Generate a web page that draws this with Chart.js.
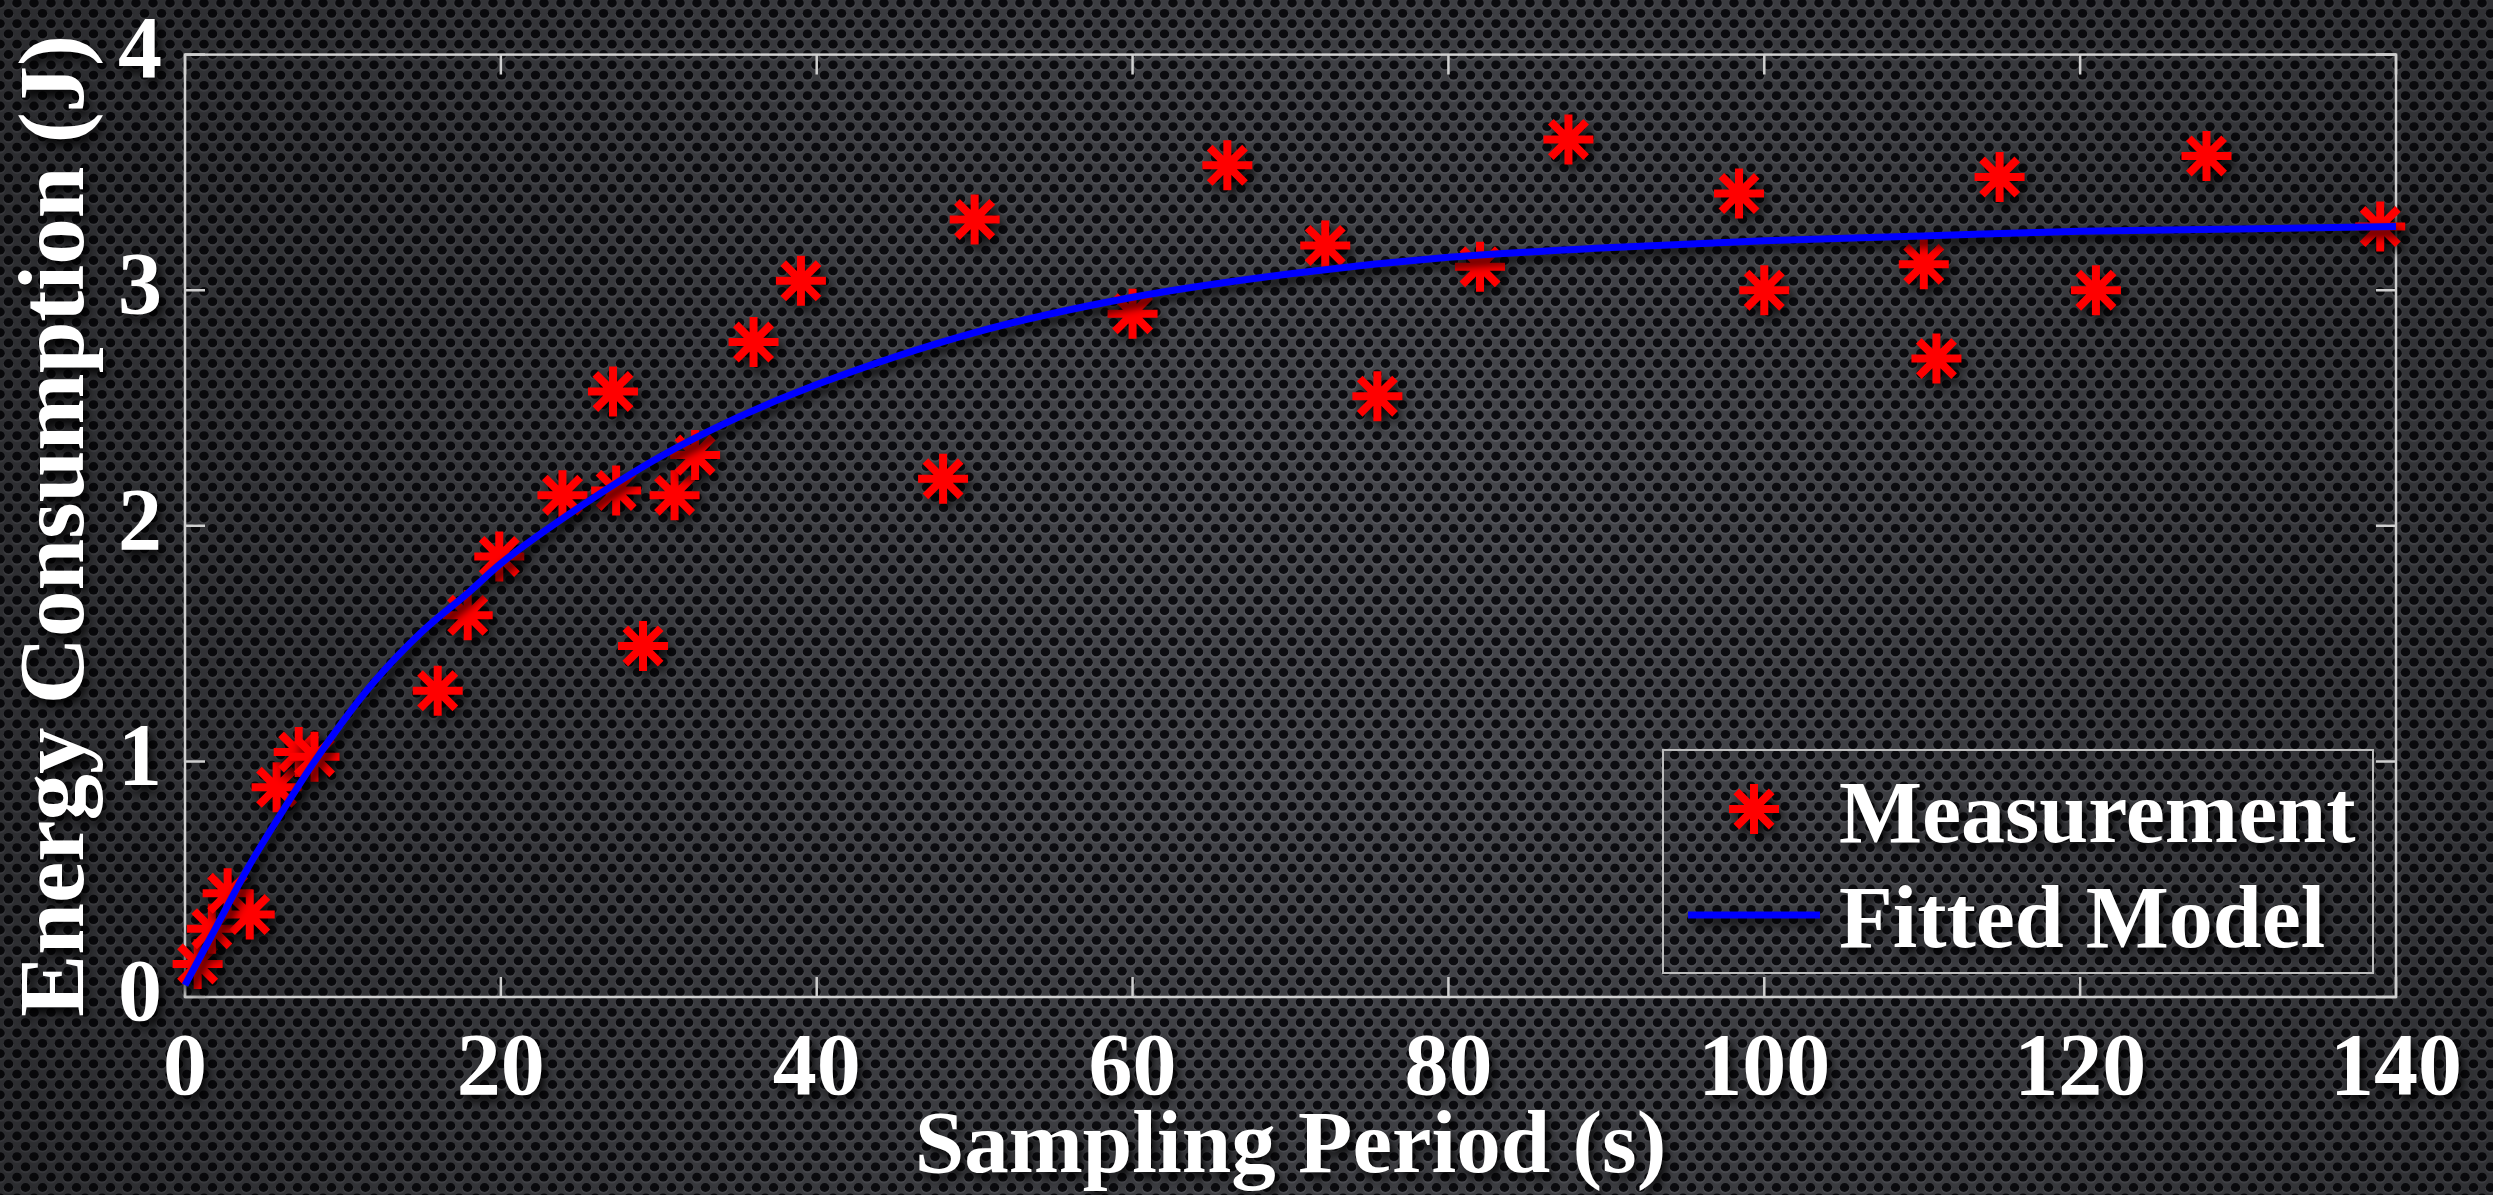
<!DOCTYPE html>
<html>
<head>
<meta charset="utf-8">
<title>Energy Consumption vs Sampling Period</title>
<script src="https://cdn.jsdelivr.net/npm/chart.js@4.4.1/dist/chart.umd.min.js"></script>
<style>
  html, body { margin: 0; padding: 0; background: #1c1c20; overflow: hidden; }
  #wrap { position: relative; width: 2493px; height: 1195px; }
  #bg, #energyChart { position: absolute; left: 0; top: 0; }
</style>
</head>
<body>
<div id="wrap">
  <canvas id="bg" width="2493" height="1195"></canvas>
  <canvas id="energyChart" width="2493" height="1195"></canvas>
</div>
<script>
// measured points (sampling period in s, energy in J)
const periods = [0.8, 1.7, 2.7, 4.1, 5.8, 7.2, 8.2, 16.0, 17.9, 19.9, 23.9, 27.1, 27.3, 29.0, 31.0, 32.3, 36.0, 39.0,
  48.0, 50.0, 60.0, 66.0, 72.2, 75.5, 82.0, 87.6, 98.4, 100.0, 110.1, 110.9, 114.9, 121.0, 128.0, 139.0];
const energy = [0.14, 0.29, 0.44, 0.35, 0.89, 1.04, 1.02, 1.30, 1.62, 1.87, 2.13, 2.57, 2.15, 1.49, 2.13, 2.30, 2.78, 3.04,
  2.20, 3.30, 2.90, 3.53, 3.19, 2.55, 3.10, 3.64, 3.41, 3.00, 3.11, 2.71, 3.48, 3.00, 3.57, 3.27];

// fitted model curve
const modelPeriods = [0, 2, 4, 6, 8, 10, 12, 15, 18, 20, 25, 30, 35, 40, 50, 60, 70, 80, 90, 100, 110, 120, 130, 140];
const modelEnergy = [0.05, 0.30, 0.55, 0.77, 0.98, 1.17, 1.34, 1.55, 1.72, 1.84, 2.08, 2.29, 2.46, 2.60, 2.82, 2.97,
  3.07, 3.14, 3.18, 3.21, 3.23, 3.25, 3.26, 3.27];

const xTicks = [0, 20, 40, 60, 80, 100, 120, 140];
const yTicks = [0, 1, 2, 3, 4];

const serif = "'Liberation Serif', 'Times New Roman', serif";

// perforated metal background
function drawBackground() {
  const c = document.getElementById('bg');
  const g = c.getContext('2d');
  const W = c.width, H = c.height;
  g.fillStyle = '#45464b';
  g.fillRect(0, 0, W, H);
  const dx = 17, dy = 10.3, r = 4.8;
  let row = 0;
  for (let y = 3; y < H + dy; y += dy, row++) {
    const off = (row % 2) * dx / 2;
    for (let x = off; x < W + dx; x += dx) {
      g.fillStyle = '#55565c';
      g.beginPath();
      g.ellipse(x, y + 1.2, r + 0.7, r * 0.92 + 0.7, 0, 0, Math.PI * 2);
      g.fill();
      g.fillStyle = '#0c0c10';
      g.beginPath();
      g.ellipse(x, y, r, r * 0.92, 0, 0, Math.PI * 2);
      g.fill();
    }
  }
  const grad = g.createRadialGradient(W * 0.55, H * 0.5, 200, W * 0.55, H * 0.5, W * 0.7);
  grad.addColorStop(0, 'rgba(0,0,0,0)');
  grad.addColorStop(1, 'rgba(0,0,0,0.45)');
  g.fillStyle = grad;
  g.fillRect(0, 0, W, H);
}
drawBackground();

const shadowPlugin = {
  id: 'shadow',
  beforeDraw(chart) {
    const ctx = chart.ctx;
    ctx.shadowColor = 'rgba(0,0,0,0.9)';
    ctx.shadowBlur = 10;
    ctx.shadowOffsetX = 4;
    ctx.shadowOffsetY = 6;
  },
  afterDraw(chart) {
    const ctx = chart.ctx;
    ctx.shadowColor = 'rgba(0,0,0,0)';
    ctx.shadowBlur = 0;
    ctx.shadowOffsetX = 0;
    ctx.shadowOffsetY = 0;
  }
};

// box around the plot and inward ticks
const framePlugin = {
  id: 'frame',
  beforeDatasetsDraw(chart) {
    const {ctx, chartArea: a, scales: {x, y}} = chart;
    ctx.save();
    ctx.shadowColor = 'rgba(0,0,0,0)';
    ctx.strokeStyle = '#cfcfcf';
    ctx.lineWidth = 2.5;
    ctx.strokeRect(a.left, a.top, a.right - a.left, a.bottom - a.top);
    const len = 20;
    ctx.beginPath();
    xTicks.forEach(v => {
      const px = x.getPixelForValue(v);
      ctx.moveTo(px, a.bottom); ctx.lineTo(px, a.bottom - len);
      ctx.moveTo(px, a.top); ctx.lineTo(px, a.top + len);
    });
    yTicks.forEach(v => {
      const py = y.getPixelForValue(v);
      ctx.moveTo(a.left, py); ctx.lineTo(a.left + len, py);
      ctx.moveTo(a.right, py); ctx.lineTo(a.right - len, py);
    });
    ctx.stroke();
    ctx.restore();
  }
};

// legend box in the lower right of the plot
const legendPlugin = {
  id: 'boxLegend',
  afterDatasetsDraw(chart) {
    const ctx = chart.ctx;
    const sets = chart.data.datasets;
    const bx = 1663, by = 750, bw = 710, bh = 223;
    ctx.save();
    ctx.shadowColor = 'rgba(0,0,0,0)';
    ctx.strokeStyle = '#bdbdbd';
    ctx.lineWidth = 2;
    ctx.strokeRect(bx, by, bw, bh);
    ctx.restore();

    ctx.save();
    ctx.strokeStyle = sets[0].borderColor;
    ctx.fillStyle = sets[0].backgroundColor;
    ctx.lineWidth = 8;
    Chart.helpers.drawPoint(ctx, {
      pointStyle: 'star', radius: 25, borderWidth: 8, rotation: 0
    }, 1754, 809);
    ctx.beginPath();
    ctx.moveTo(1688, 915);
    ctx.lineTo(1820, 915);
    ctx.strokeStyle = sets[1].borderColor;
    ctx.lineWidth = 7;
    ctx.stroke();
    ctx.restore();

    ctx.save();
    ctx.fillStyle = '#ffffff';
    ctx.font = 'bold 88px ' + serif;
    ctx.textBaseline = 'alphabetic';
    ctx.textAlign = 'left';
    ctx.fillText(sets[0].label, 1839, 842);
    ctx.fillText(sets[1].label, 1839, 947);
    ctx.restore();
  }
};

const measured = periods.map((p, i) => ({x: p, y: energy[i]}));
const model = modelPeriods.map((p, i) => ({x: p, y: modelEnergy[i]}));

const ctx = document.getElementById('energyChart');

Chart.defaults.font.family = serif;

const energyChart = new Chart(ctx, {
  type: 'scatter',
  data: {
    datasets: [
      {
        type: 'scatter',
        label: 'Measurement',
        data: measured,
        pointStyle: 'star',
        pointRadius: 25,
        pointBorderWidth: 8,
        borderColor: '#ff0000',
        backgroundColor: '#ff0000',
        order: 1,
        clip: false
      },
      {
        type: 'line',
        label: 'Fitted Model',
        data: model,
        borderColor: '#0000ff',
        borderWidth: 7,
        pointRadius: 0,
        fill: false,
        cubicInterpolationMode: 'monotone',
        order: 0,
        clip: false
      }
    ]
  },
  options: {
    responsive: false,
    devicePixelRatio: 1,
    animation: false,
    events: [],
    layout: { padding: { top: 43, right: 97, left: 0, bottom: 0 } },
    plugins: {
      legend: { display: false },
      tooltip: { enabled: false }
    },
    scales: {
      x: {
        type: 'linear',
        min: 0,
        max: 140,
        afterBuildTicks: s => { s.ticks = xTicks.map(v => ({value: v})); },
        afterFit: s => { s.height = 198; },
        grid: { display: false },
        border: { display: false },
        ticks: {
          color: '#ffffff',
          autoSkip: false,
          maxRotation: 0,
          padding: 27,
          font: { size: 88, weight: 'bold', family: serif, lineHeight: 0.9 }
        },
        title: {
          display: true,
          text: 'Sampling Period (s)',
          color: '#ffffff',
          padding: { top: 0, bottom: 1 },
          font: { size: 89, weight: 'bold', family: serif, lineHeight: 1 }
        }
      },
      y: {
        type: 'linear',
        min: 0,
        max: 4,
        afterBuildTicks: s => { s.ticks = yTicks.map(v => ({value: v})); },
        afterFit: s => { s.width = 185; },
        grid: { display: false },
        border: { display: false },
        ticks: {
          color: '#ffffff',
          padding: 15,
          font: { size: 88, weight: 'bold', family: serif, lineHeight: 0.9 }
        },
        title: {
          display: true,
          text: 'Energy Consumption (J)',
          color: '#ffffff',
          padding: { top: 12, bottom: 0 },
          font: { size: 93, weight: 'bold', family: serif, lineHeight: 1 }
        }
      }
    }
  },
  plugins: [shadowPlugin, framePlugin, legendPlugin]
});
</script>
</body>
</html>
